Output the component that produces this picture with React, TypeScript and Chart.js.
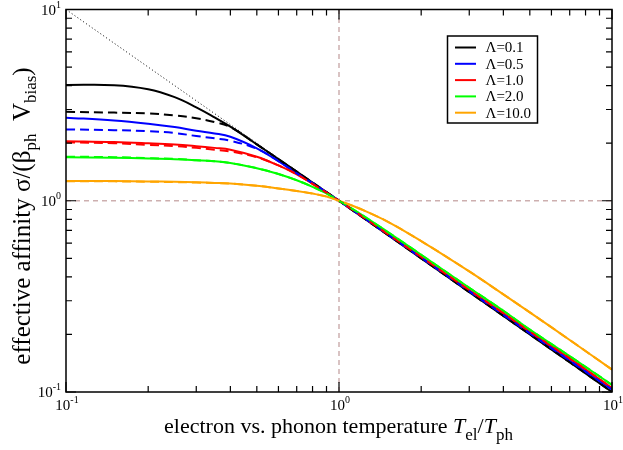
import { useEffect, useRef } from 'react'
import { Chart, registerables } from 'chart.js'

Chart.register(...registerables)

// T_el / T_ph sample points
const temperatures = [0.1, 0.15, 0.2, 0.25, 0.3, 0.35, 0.4, 0.5, 0.6, 0.7, 0.8, 0.9, 1, 1.2, 1.5, 2, 3, 4, 5, 7, 10]

const lambdaLabels = ['Λ=0.1', 'Λ=0.5', 'Λ=1.0', 'Λ=2.0', 'Λ=10.0']
const lambdaColors = ['#000000', '#0000ff', '#ff0000', '#00ff00', '#ffa500']

// solid curves
const solid01 = [4.03, 4.02, 3.83, 3.48, 3.08, 2.73, 2.44, 1.97, 1.65, 1.42, 1.245, 1.11, 1, 0.833, 0.667, 0.5, 0.333, 0.25, 0.2, 0.143, 0.1]
const solid05 = [2.72, 2.63, 2.53, 2.43, 2.32, 2.25, 2.16, 1.88, 1.61, 1.39, 1.235, 1.107, 1, 0.837, 0.67, 0.504, 0.337, 0.2535, 0.203, 0.146, 0.103]
const solid10 = [2.05, 2.03, 2.0, 1.97, 1.93, 1.89, 1.85, 1.7, 1.53, 1.375, 1.225, 1.102, 1, 0.839, 0.673, 0.508, 0.341, 0.2585, 0.207, 0.15, 0.105]
const solid20 = [1.69, 1.68, 1.665, 1.65, 1.63, 1.61, 1.575, 1.48, 1.38, 1.28, 1.183, 1.092, 1, 0.852, 0.69, 0.522, 0.351, 0.266, 0.212, 0.154, 0.109]
const solid100 = [1.27, 1.268, 1.262, 1.256, 1.248, 1.24, 1.232, 1.198, 1.16, 1.125, 1.09, 1.052, 1, 0.905, 0.78, 0.615, 0.427, 0.324, 0.261, 0.187, 0.131]

// dashed curves
const dashed01 = [2.92, 2.89, 2.86, 2.79, 2.7, 2.58, 2.43, 1.97, 1.65, 1.42, 1.245, 1.11, 1, 0.833, 0.667, 0.5, 0.333, 0.25, 0.2, 0.143, 0.1]
const dashed05 = [2.36, 2.34, 2.31, 2.26, 2.18, 2.12, 2.06, 1.87, 1.61, 1.39, 1.235, 1.107, 1, 0.837, 0.67, 0.504, 0.337, 0.2535, 0.203, 0.146, 0.103]
const dashed10 = [2.02, 2.0, 1.96, 1.93, 1.89, 1.85, 1.81, 1.69, 1.53, 1.375, 1.225, 1.102, 1, 0.839, 0.673, 0.508, 0.341, 0.2585, 0.207, 0.15, 0.105]
const dashed20 = [1.7, 1.69, 1.67, 1.655, 1.63, 1.61, 1.575, 1.48, 1.38, 1.28, 1.183, 1.092, 1, 0.852, 0.69, 0.522, 0.351, 0.266, 0.212, 0.154, 0.109]
const dashed100 = [1.265, 1.263, 1.258, 1.252, 1.245, 1.237, 1.23, 1.197, 1.16, 1.125, 1.09, 1.052, 1, 0.905, 0.78, 0.615, 0.427, 0.324, 0.261, 0.187, 0.131]

// dotted 1/x guide
const guideX = [0.1, 1, 10]
const guideY = [10, 1, 0.1]

const majorTicks = [0.1, 1, 10]
const tickExponents = ['-1', '0', '1']
const minorTicks = [0.2, 0.3, 0.4, 0.5, 0.6, 0.7, 0.8, 0.9, 2, 3, 4, 5, 6, 7, 8, 9]

const SERIF = '"Liberation Serif", "Times New Roman", serif'

type Seg = { text: string; size: number; italic?: boolean; dy?: number }

function drawRich(ctx: CanvasRenderingContext2D, segs: Seg[], x: number, y: number, align: 'left' | 'center' | 'right') {
  const font = (s: Seg) => `${s.italic ? 'italic ' : ''}${s.size}px ${SERIF}`
  let total = 0
  for (const s of segs) {
    ctx.font = font(s)
    total += ctx.measureText(s.text).width
  }
  let cx = align === 'left' ? x : align === 'center' ? x - total / 2 : x - total
  ctx.textAlign = 'left'
  ctx.textBaseline = 'alphabetic'
  for (const s of segs) {
    ctx.font = font(s)
    ctx.fillText(s.text, cx, y + (s.dy || 0))
    cx += ctx.measureText(s.text).width
  }
}

const framePlugin = {
  id: 'frame',
  afterDatasetsDraw(chart: any) {
    const { ctx, chartArea: a, scales } = chart
    const xs = scales.x
    const ys = scales.y
    ctx.save()
    ctx.fillStyle = '#000'
    ctx.strokeStyle = '#000'

    // ticks on all four sides, pointing inwards
    ctx.lineWidth = 1.2
    const ticks = [...majorTicks.map(v => [v, 10]), ...minorTicks.map(v => [v, 6])]
    ctx.beginPath()
    for (const [v, len] of ticks) {
      const px = xs.getPixelForValue(v)
      ctx.moveTo(px, a.bottom); ctx.lineTo(px, a.bottom - len)
      ctx.moveTo(px, a.top); ctx.lineTo(px, a.top + len)
      const py = ys.getPixelForValue(v)
      ctx.moveTo(a.left, py); ctx.lineTo(a.left + len, py)
      ctx.moveTo(a.right, py); ctx.lineTo(a.right - len, py)
    }
    ctx.stroke()

    ctx.lineWidth = 1.5
    ctx.strokeRect(a.left, a.top, a.right - a.left, a.bottom - a.top)

    // tick labels
    majorTicks.forEach((v, i) => {
      const segs: Seg[] = [{ text: '10', size: 15 }, { text: tickExponents[i], size: 10, dy: -7 }]
      drawRich(ctx, segs, xs.getPixelForValue(v) + 1, a.bottom + 18, 'center')
      drawRich(ctx, segs, a.left - 5, ys.getPixelForValue(v) + 5, 'right')
    })

    // axis titles
    drawRich(ctx, [
      { text: 'electron vs. phonon temperature ', size: 22 },
      { text: 'T', size: 22, italic: true },
      { text: 'el', size: 17, dy: 7 },
      { text: '/', size: 22 },
      { text: 'T', size: 22, italic: true },
      { text: 'ph', size: 17, dy: 7 },
    ], 338.5, 433, 'center')

    ctx.save()
    ctx.translate(30, 216)
    ctx.rotate(-Math.PI / 2)
    drawRich(ctx, [
      { text: 'effective affinity σ/(β', size: 25 },
      { text: 'ph', size: 17, dy: 6 },
      { text: '  V', size: 25 },
      { text: 'bias', size: 17, dy: 6 },
      { text: ')', size: 25 },
    ], 0, 0, 'center')
    ctx.restore()

    // legend box
    const bx = 447.5, by = 36, bw = 90, bh = 87
    ctx.fillStyle = '#fff'
    ctx.fillRect(bx, by, bw, bh)
    ctx.lineWidth = 1.5
    ctx.strokeRect(bx, by, bw, bh)
    lambdaLabels.forEach((label, i) => {
      const ry = by + 11.5 + i * 16.3
      ctx.strokeStyle = lambdaColors[i]
      ctx.lineWidth = 2
      ctx.beginPath()
      ctx.moveTo(bx + 7.5, ry)
      ctx.lineTo(bx + 28.5, ry)
      ctx.stroke()
      ctx.fillStyle = '#000'
      ctx.font = `15px ${SERIF}`
      ctx.textAlign = 'left'
      ctx.textBaseline = 'middle'
      ctx.fillText(label, bx + 38, ry + 1)
    })
    ctx.restore()
  },
}

const toPoints = (ys: number[], xs: number[] = temperatures) => xs.map((x, i) => ({ x, y: ys[i] }))

export default function App() {
  const canvasRef = useRef<HTMLCanvasElement | null>(null)

  useEffect(() => {
    if (!canvasRef.current) return
    const ctx = canvasRef.current.getContext('2d')
    if (!ctx) return

    const curve = (ys: number[], color: string, dashed: boolean, order: number) => ({
      data: toPoints(ys),
      borderColor: color,
      borderWidth: 2,
      borderDash: dashed ? [9, 5] : [],
      pointRadius: 0,
      fill: false,
      tension: 0.4,
      order,
    })

    const solids = [solid01, solid05, solid10, solid20, solid100]
    const dashes = [dashed01, dashed05, dashed10, dashed20, dashed100]
    const refColor = 'rgb(205,175,175)'

    const chart = new Chart(ctx, {
      type: 'line',
      data: {
        datasets: [
          ...dashes.map((d, i) => curve(d, lambdaColors[i], true, 10 - i)),
          ...solids.map((d, i) => curve(d, lambdaColors[i], false, 20 - i)),
          {
            data: toPoints(guideY, guideX),
            borderColor: '#000',
            borderWidth: 1,
            borderDash: [1, 2.5],
            pointRadius: 0,
            fill: false,
            order: 30,
          },
          {
            data: [{ x: 1, y: 0.1 }, { x: 1, y: 10 }],
            borderColor: refColor,
            borderWidth: 1.5,
            borderDash: [5, 4],
            pointRadius: 0,
            order: 40,
          },
          {
            data: [{ x: 0.1, y: 1 }, { x: 10, y: 1 }],
            borderColor: refColor,
            borderWidth: 1.5,
            borderDash: [5, 4],
            pointRadius: 0,
            order: 40,
          },
        ] as any,
      },
      options: {
        animation: false,
        responsive: false,
        parsing: false,
        layout: { padding: { left: 66, top: 9.5, right: 11, bottom: 58 } },
        scales: {
          x: { type: 'logarithmic', min: 0.1, max: 10, display: false },
          y: { type: 'logarithmic', min: 0.1, max: 10, display: false },
        },
        plugins: {
          legend: { display: false },
          tooltip: { enabled: false },
        },
      },
      plugins: [framePlugin],
    })

    return () => {
      chart.destroy()
    }
  }, [])

  return (
    <div style={{ position: 'fixed', left: 0, top: 0, width: 623, height: 450, background: '#fff' }}>
      <canvas ref={canvasRef} width={623} height={450} style={{ width: 623, height: 450 }} />
    </div>
  )
}
